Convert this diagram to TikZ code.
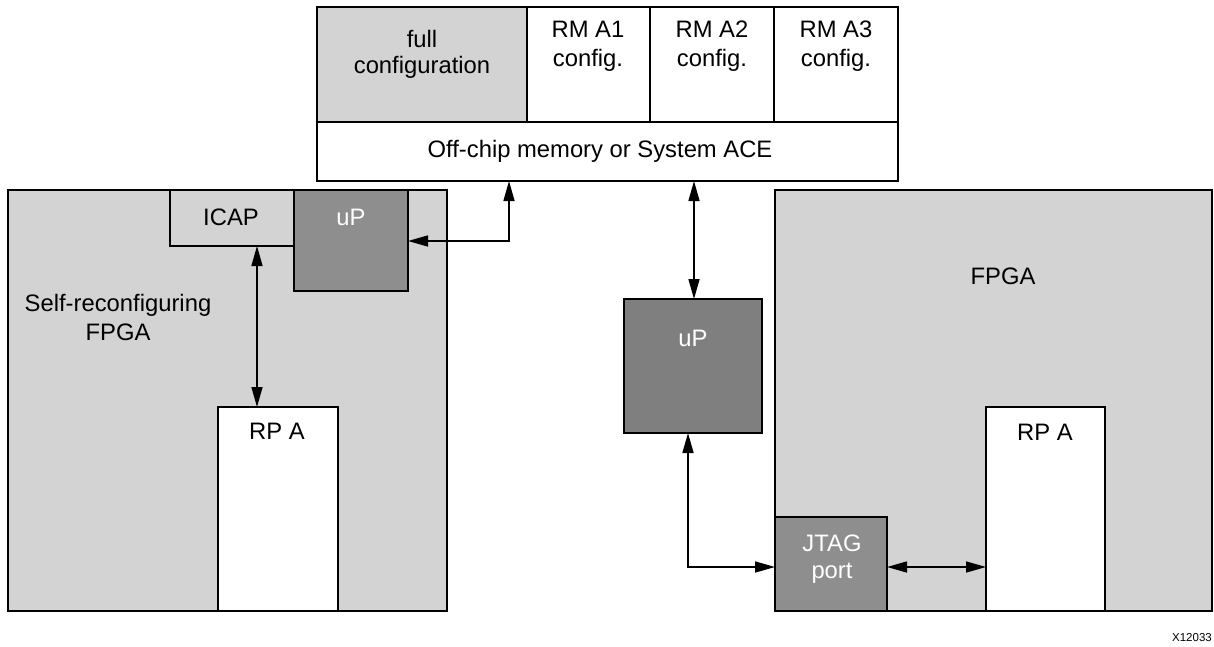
\documentclass[tikz,border=0pt]{standalone}
\usepackage{fontspec}
\setmainfont{Liberation Sans}
\usetikzlibrary{arrows.meta}
\definecolor{lgray}{RGB}{211,211,211}
\definecolor{mgray}{RGB}{142,142,142}
\definecolor{dgray}{RGB}{127,127,127}
\begin{document}
\begin{tikzpicture}[x=1pt,y=-1pt,
  box/.style={draw=black,line width=2.2pt,anchor=north west,inner sep=0pt,outer sep=0pt},
  txt/.style={anchor=base,inner sep=0pt,font=\fontsize{23.8}{28}\selectfont},
  wtxt/.style={txt,text=white},
  arr/.style={line width=1.5pt,{Triangle[length=20pt,width=11pt]}-{Triangle[length=20pt,width=11pt]}}]
\useasboundingbox (0,0) rectangle (1214,646);
% memory block
\node[box,fill=lgray,minimum width=210,minimum height=115] (full) at (317,7) {};
\node[box,fill=white,minimum width=123,minimum height=115] (rm1) at (527,7) {};
\node[box,fill=white,minimum width=124,minimum height=115] (rm2) at (650,7) {};
\node[box,fill=white,minimum width=124,minimum height=115] (rm3) at (774,7) {};
\node[box,fill=white,minimum width=581,minimum height=59] (ace) at (317,122) {};
\node[txt] (t1) at (422,47) {full};
\node[txt] (t2) at (422,73) {configuration};
\node[txt] (t3) at (588,37) {RM A1};
\node[txt] (t4) at (588,66) {config.};
\node[txt] (t5) at (712,37) {RM A2};
\node[txt] (t6) at (712,66) {config.};
\node[txt] (t7) at (836,37) {RM A3};
\node[txt] (t8) at (836,66) {config.};
\node[txt] (t9) at (600,157) {Off-chip memory or System ACE};
% left FPGA
\node[box,fill=lgray,minimum width=439,minimum height=421] (lf) at (8,190) {};
\node[box,fill=lgray,minimum width=124,minimum height=56] (icap) at (170,190) {};
\node[box,fill=mgray,minimum width=114,minimum height=101] (up1) at (294,190) {};
\node[box,fill=white,minimum width=120,minimum height=204] (rpl) at (218,407) {};
\node[txt] (t10) at (231,225) {ICAP};
\node[wtxt] (t11) at (351,225) {uP};
\node[txt] (t12) at (118,311) {Self-reconfiguring};
\node[txt] (t13) at (118,340) {FPGA};
\node[txt] (t14) at (277,439) {RP A};
% middle uP
\node[box,fill=dgray,minimum width=138,minimum height=134] (up2) at (624,299) {};
\node[wtxt] (t15) at (693,346) {uP};
% right FPGA
\node[box,fill=lgray,minimum width=437,minimum height=421] (rf) at (775,190) {};
\node[box,fill=white,minimum width=119,minimum height=204] (rpr) at (986,407) {};
\node[box,fill=mgray,minimum width=112,minimum height=94] (jtag) at (775,517) {};
\node[txt] (t16) at (1003,284) {FPGA};
\node[txt] (t17) at (1045,440) {RP A};
\node[wtxt] (t18) at (832,551) {JTAG};
\node[wtxt] (t19) at (832,578) {port};
\node[anchor=base east,inner sep=0pt,font=\fontsize{11.5}{13}\selectfont] (t20) at (1212,641) {X12033};
% connectors
\coordinate (k1) at (509,241);
\coordinate (k2) at (257,300);
\coordinate (k3) at (694,250);
\coordinate (k4) at (688,567);
\draw[arr] (ace.south -| k1) |- (up1.east |- k1);
\draw[arr] (icap.south -| k2) -- (rpl.north -| k2);
\draw[arr] (ace.south -| k3) -- (up2.north -| k3);
\draw[arr] (up2.south -| k4) |- (jtag.west |- k4);
\draw[arr] (jtag.east |- k4) -- (rpr.west |- k4);
\end{tikzpicture}
\end{document}
